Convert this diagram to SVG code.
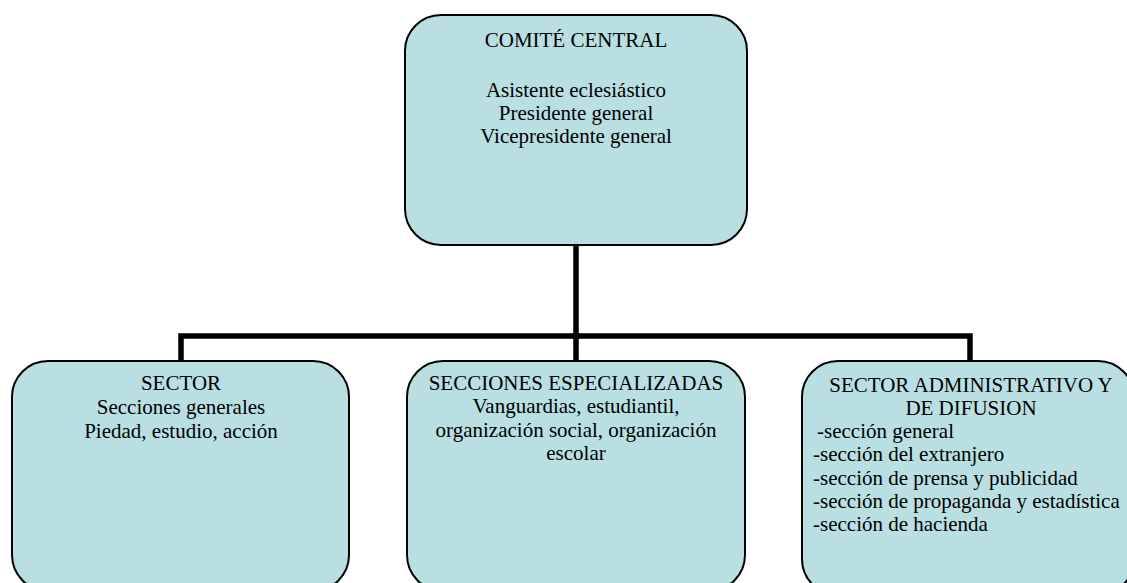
<svg xmlns="http://www.w3.org/2000/svg" width="1127" height="583" viewBox="0 0 1127 583">
<style>
.box{fill:#b9dfe2;stroke:#000;stroke-width:2}
text{font-family:'Liberation Serif','Times New Roman',Times,serif;font-size:21px;fill:#000}
.c{text-anchor:middle}
.conn{fill:none;stroke:#000;stroke-width:5.5}
</style>
<rect width="1127" height="583" fill="#fff"/>
<g id="connectors">
<path class="conn" d="M576,245 V336"/>
<path class="conn" d="M181,360 V336 H970 V360"/>
<path class="conn" d="M576,336 V360"/>
</g>
<g id="comite">
<rect class="box" x="405" y="15" width="342" height="230" rx="36" ry="36"/>
<text class="c" x="576" y="47">COMITÉ CENTRAL</text>
<text class="c" x="576" y="97">Asistente eclesiástico</text>
<text class="c" x="576" y="120">Presidente general</text>
<text class="c" x="576" y="143">Vicepresidente general</text>
</g>
<g id="sector">
<rect class="box" x="12" y="361" width="337" height="230" rx="36" ry="36"/>
<text class="c" x="181" y="390">SECTOR</text>
<text class="c" x="181" y="414">Secciones generales</text>
<text class="c" x="181" y="438">Piedad, estudio, acción</text>
</g>
<g id="secciones">
<rect class="box" x="407" y="361" width="338" height="230" rx="36" ry="36"/>
<text class="c" x="576" y="390">SECCIONES ESPECIALIZADAS</text>
<text class="c" x="576" y="413">Vanguardias, estudiantil,</text>
<text class="c" x="576" y="437">organización social, organización</text>
<text class="c" x="576" y="460">escolar</text>
</g>
<g id="administrativo">
<rect class="box" x="802" y="361" width="332" height="234" rx="36" ry="36"/>
<text class="c" x="971" y="392">SECTOR ADMINISTRATIVO Y</text>
<text class="c" x="971" y="415">DE DIFUSION</text>
<text x="817" y="438">-sección general</text>
<text x="813" y="461">-sección del extranjero</text>
<text x="813" y="485">-sección de prensa y publicidad</text>
<text x="813" y="508">-sección de propaganda y estadística</text>
<text x="813" y="531">-sección de hacienda</text>
</g>
</svg>
